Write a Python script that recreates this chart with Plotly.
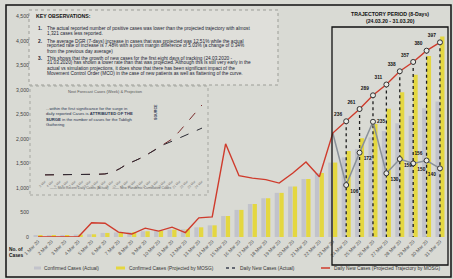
import plotly.graph_objects as go

# ---------------- data ----------------
dates = ["1 Mar 20", "2 Mar 20", "3 Mar 20", "4 Mar 20", "5 Mar 20", "6 Mar 20", "7 Mar 20",
         "8 Mar 20", "9 Mar 20", "10 Mar 20", "11 Mar 20", "12 Mar 20", "13 Mar 20", "14 Mar 20",
         "15 Mar 20", "16 Mar 20", "17 Mar 20", "18 Mar 20", "19 Mar 20", "20 Mar 20", "21 Mar 20",
         "22 Mar 20", "23 Mar 20", "24 Mar 20", "25 Mar 20", "26 Mar 20", "27 Mar 20", "28 Mar 20",
         "29 Mar 20", "30 Mar 20", "31 Mar 20"]
cum_actual = [29, 29, 36, 50, 55, 83, 93, 99, 117, 129, 149, 158, 197, 238, 428, 553, 673, 790,
              900, 1030, 1183, 1306, 1518, 1624, 1796, 2031, 2161, 2320, 2470, 2626, 2766]
cum_projected = [29, 29, 36, 50, 55, 83, 93, 99, 117, 129, 149, 158, 197, 238, 428, 553, 673, 790,
                 900, 1030, 1183, 1306, 1518, 1754, 2015, 2304, 2615, 2953, 3310, 3690, 4087]
daily_actual = [0, 0, 0, 0, 29, 28, 10, 6, 18, 12, 20, 9, 39, 41, 190, 125, 120, 117, 110, 130,
                153, 123, 212, 106, 172, 235, 130, 159, 150, 156, 140]
trajectory_dates = ["24 Mar 20", "25 Mar 20", "26 Mar 20", "27 Mar 20", "28 Mar 20",
                    "29 Mar 20", "30 Mar 20", "31 Mar 20"]
daily_projected = [236, 261, 289, 311, 338, 357, 380, 397]
y_ticks = [0, 500, 1000, 1500, 2000, 2500, 3000, 3500, 4000, 4500]

# small inset chart (left)
inset_labels = ["3 Mar", "4 Mar", "5 Mar", "6 Mar", "7 Mar", "8 Mar", "9 Mar", "10 Mar", "11 Mar",
                "12 Mar", "13 Mar", "14 Mar", "15 Mar", "16 Mar", "17 Mar", "18 Mar", "19 Mar",
                "20 Mar", "21 Mar", "22 Mar", "23 Mar", "24 Mar"]
inset_projection = [10, 10, 10, 10, 11, 11, 11, 12, 13, 18, 30, 45, 55, 66, 80, 95, 108, 125, 150,
                    178, 205, 234]
inset_actual = [10, 10, 10, 10, 11, 11, 11, 12, 13, 18, 30, 45, 55, 66, 80, 95, 108, 118, 128,
                138, 149, 160]

BG = "#d9dad4"
GRAY_BAR = "#c2c3cb"
YELLOW = "#e4d740"
RED = "#cf3b2c"
GRAY_LINE = "#8a9199"

fig = go.Figure()

fig.add_trace(go.Bar(x=dates, y=cum_actual, name="Confirmed Cases (Actual)",
                     marker=dict(color=GRAY_BAR, line=dict(width=0)), showlegend=False))
fig.add_trace(go.Bar(x=dates, y=cum_projected, name="Confirmed Cases (Projected by MOSG)",
                     marker=dict(color=YELLOW, line=dict(width=0)), showlegend=False))

# dotted drop lines from projected points
vx, vy = [], []
for d, v in zip(trajectory_dates, daily_projected):
    vx += [d, d, None]
    vy += [v, 0, None]
fig.add_trace(go.Scatter(x=vx, y=vy, yaxis="y2", mode="lines", showlegend=False,
                         line=dict(color="#1e1e1e", width=1.3, dash="dot"), hoverinfo="skip"))

n_before = len(dates) - len(trajectory_dates)
fig.add_trace(go.Scatter(x=dates[n_before - 1:], y=daily_actual[n_before - 1:], yaxis="y2",
                         mode="lines", name="Daily New Cases (Actual)", showlegend=False,
                         line=dict(color=GRAY_LINE, width=1.5)))
fig.add_trace(go.Scatter(x=dates, y=daily_actual[:n_before] + daily_projected, yaxis="y2",
                         mode="lines", name="Daily New Cases (Projected by MOSG)", showlegend=False,
                         line=dict(color=RED, width=1.4)))

gray_pos = ["bottom right", "bottom right", "middle right", "bottom right", "bottom right",
            "bottom right", "top left", "bottom left"]
fig.add_trace(go.Scatter(x=trajectory_dates, y=daily_actual[n_before:], yaxis="y2",
                         mode="markers+text", showlegend=False,
                         marker=dict(symbol="circle", size=5, color="#e9e9e4",
                                     line=dict(color="#333", width=1)),
                         texttemplate="<b>%{y}</b>", textposition=gray_pos,
                         textfont=dict(size=4.8, color="#111")))
fig.add_trace(go.Scatter(x=trajectory_dates, y=daily_projected, yaxis="y2",
                         mode="markers+text", showlegend=False,
                         marker=dict(symbol="circle", size=5, color="#e9e9e4",
                                     line=dict(color="#333", width=1)),
                         texttemplate="<b>%{y}</b>", textposition="top left",
                         textfont=dict(size=4.8, color="#111")))

# inset chart
fig.add_trace(go.Scatter(x=inset_labels, y=inset_projection, xaxis="x2", yaxis="y3", mode="lines",
                         showlegend=False, line=dict(color="#7a2b2b", width=1, dash="dash")))
fig.add_trace(go.Scatter(x=inset_labels, y=inset_actual, xaxis="x2", yaxis="y3", mode="lines",
                         showlegend=False, line=dict(color="#2a2a33", width=1, dash="dash")))

# ---------------- layout helpers ----------------
L, R, T, B = 30, 7, 9, 42
PW, PH = 453 - L - R, 279 - T - B


def px(x):
    return (x - L) / PW


def py(y):
    return (279 - B - y) / PH


shapes = [
    # outer frame
    dict(type="rect", xref="paper", yref="paper", x0=px(6), x1=px(451), y0=py(277), y1=py(5),
         line=dict(color="#111", width=1.5)),
    # key observation box
    dict(type="rect", xref="paper", yref="paper", x0=px(29), x1=px(278), y0=py(85), y1=py(10),
         line=dict(color="#9c9d97", width=1, dash="dot"), fillcolor="rgba(226,227,221,0.6)",
         layer="below"),
    # inset chart box
    dict(type="rect", xref="paper", yref="paper", x0=px(30), x1=px(208), y0=py(195), y1=py(86),
         line=dict(color="#a5a6a0", width=1, dash="dot"), layer="below"),
    # trajectory box
    dict(type="rect", xref="paper", yref="paper", x0=px(332), x1=px(448), y0=py(265), y1=py(27),
         line=dict(color="#111", width=1.3)),
]

annotations = []


def note(x, y, text, size=5, color="#222", xanchor="left", yanchor="middle", align="left",
         angle=0):
    annotations.append(dict(xref="paper", yref="paper", x=px(x), y=py(y), text=text,
                            showarrow=False, xanchor=xanchor, yanchor=yanchor, align=align,
                            textangle=angle, font=dict(size=size, color=color)))


note(34, 16, "<b>KEY OBSERVATIONS:</b>", size=5.2, color="#111")
obs = [
    (28, ["The actual reported number of positive cases was lower than the projected trajectory with almost",
          "1,321 cases less reported."]),
    (41, ["The average DGR (7-days) increase in cases that was projected was 12.51% while the actual",
          "reported rate of increase is 7.48% with a point margin difference of 5.03% (a change of 0.34%",
          "from the previous day average)"]),
    (58, ["This shows that the growth of new cases for the first eight days of tracking (24.03.2020 -",
          "31.03.2020) has shown a lower rate than that was projected. Although this is still very early in the",
          "actual vs simulation projections, it does show that there has been significant impact of the",
          "Movement Control Order (MCO) in the case of new patients as well as flattening of the curve."]),
]
for i, (yy, lines) in enumerate(obs):
    note(36, yy, "<b>%d.</b>" % (i + 1), size=4.8, color="#1c2433")
    for k, line in enumerate(lines):
        note(45, yy + 5 * k, line, size=4.75, color="#1c2433")

note(390, 14, "<b>TRAJECTORY PERIOD (8-Days)</b>", size=5.2, color="#111", xanchor="center")
note(390, 21, "<b>(24.03.20 - 31.03.20)</b>", size=5.2, color="#111", xanchor="center")

note(7, 252, "<b>No. of<br>Cases</b>", size=4.8, color="#111")

# inset texts
note(105, 91, "Next Forecast Cases (Week) &amp; Projection", size=4, color="#555",
     xanchor="center")
note(44, 116, "...within the first significance for the surge in<br>"
              "daily reported Cases is <b>ATTRIBUTED OF THE</b><br>"
              "<b>SURGE</b> in the number of cases for the Tabligh<br>Gathering",
     size=4.2, color="#2b3550", yanchor="middle")
note(156, 112, "<b>SOURCE</b>", size=3.6, color="#2b3550", xanchor="center", angle=-90)
note(110, 188, "—— Most Recent Daily Cases (Actual)    —— New Pandemic Cumulative Cases",
     size=3.4, color="#666", xanchor="center")

# manual legend
leg_y = 268
shapes += [
    dict(type="rect", xref="paper", yref="paper", x0=px(34), x1=px(41), y0=py(269.5),
         y1=py(266.5), fillcolor=GRAY_BAR, line=dict(width=0)),
    dict(type="rect", xref="paper", yref="paper", x0=px(116), x1=px(125), y0=py(269.5),
         y1=py(266.5), fillcolor=YELLOW, line=dict(width=0)),
    dict(type="line", xref="paper", yref="paper", x0=px(226), x1=px(236), y0=py(leg_y),
         y1=py(leg_y), line=dict(color="#3c4250", width=1.3, dash="dot")),
    dict(type="line", xref="paper", yref="paper", x0=px(321), x1=px(330), y0=py(leg_y),
         y1=py(leg_y), line=dict(color=RED, width=1.5)),
]
note(42, leg_y, "Confirmed Cases (Actual)", size=4.8, color="#333")
note(127, leg_y, "Confirmed Cases (Projected by MOSG)", size=4.8, color="#333")
note(238, leg_y, "Daily New Cases (Actual)", size=4.8, color="#333")
note(332, leg_y, "Daily New Cases (Projected Trajectory by MOSG)", size=4.8, color="#333")

fig.update_layout(
    template="none",
    width=453, height=279,
    margin=dict(l=L, r=R, t=T, b=B, autoexpand=False),
    paper_bgcolor=BG, plot_bgcolor=BG,
    font=dict(family="Liberation Sans, Arial, sans-serif", color="#333"),
    barmode="group", bargap=0.3, bargroupgap=0.08,
    showlegend=False,
    xaxis=dict(type="category", range=[-0.6, 30.45], tickangle=-45, automargin=False,
               tickfont=dict(size=4.8, color="#555"), showgrid=False, zeroline=False,
               showline=False, ticks=""),
    yaxis=dict(range=[0, 4650], tickvals=y_ticks, tickformat=",d", automargin=False,
               tickfont=dict(size=5.2, color="#444"), showgrid=False, zeroline=False,
               showline=False, ticks=""),
    yaxis2=dict(range=[0, 465], overlaying="y", visible=False),
    xaxis2=dict(domain=[px(45), px(202)], anchor="y3", type="category", tickangle=-45,
                automargin=False,
                tickfont=dict(size=3.2, color="#777"), showgrid=False, zeroline=False,
                showline=False, ticks=""),
    yaxis3=dict(domain=[py(178), py(100)], anchor="x2", range=[0, 250], visible=False),
    shapes=shapes,
    annotations=annotations,
)

fig.write_html("out.html", config={"displayModeBar": False},
               post_script="document.body.style.margin='0';document.body.style.background='%s';" % BG)
